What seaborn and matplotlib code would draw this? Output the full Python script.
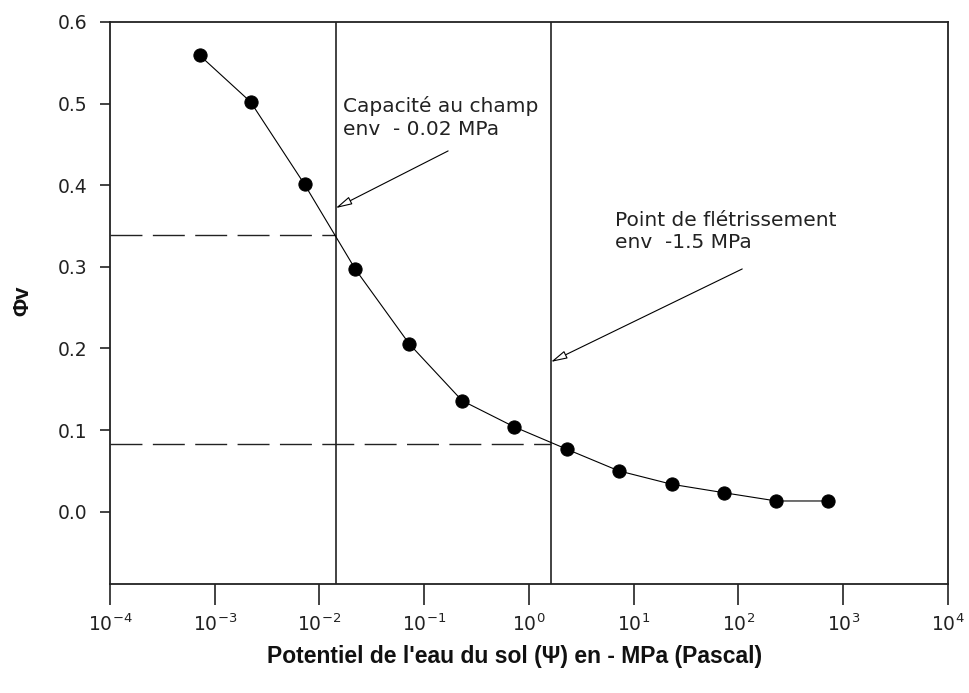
import matplotlib
matplotlib.use("Agg")
import matplotlib.pyplot as plt
import seaborn as sns
import numpy as np
import pandas as pd

# Soil water retention curve: volumetric water content vs. water potential
potential_mpa = [0.00072, 0.0022, 0.0072, 0.022, 0.072, 0.23, 0.72,
                 2.3, 7.2, 23, 72, 230, 720]
water_content = [0.559, 0.502, 0.401, 0.297, 0.2055, 0.136, 0.104,
                 0.0765, 0.050, 0.0336, 0.0233, 0.0131, 0.0131]

# Reference potentials and corresponding water contents
field_capacity_x = 0.0143
field_capacity_y = 0.3387
wilting_point_x = 1.62
wilting_point_y = 0.0826

x_ticks = [1e-4, 1e-3, 1e-2, 1e-1, 1e0, 1e1, 1e2, 1e3, 1e4]
x_tick_labels = ["10$^{-4}$", "10$^{-3}$", "10$^{-2}$", "10$^{-1}$", "10$^{0}$",
                 "10$^{1}$", "10$^{2}$", "10$^{3}$", "10$^{4}$"]
y_ticks = [0.0, 0.1, 0.2, 0.3, 0.4, 0.5, 0.6]
y_tick_labels = ["0.0", "0.1", "0.2", "0.3", "0.4", "0.5", "0.6"]

df = pd.DataFrame({"psi": potential_mpa, "phi": water_content})

sns.set_style("ticks")
plt.rcParams["font.family"] = ["DejaVu Sans"]
plt.rcParams["mathtext.fontset"] = "dejavusans"
plt.rcParams["axes.unicode_minus"] = False

fig = plt.figure(figsize=(9.7, 6.93), dpi=100)
ax = fig.add_axes([0.1134, 0.1573, 0.8639, 0.811])

ax.set_xscale("log")
ax.set_xlim(1e-4, 1e4)
ax.set_ylim(-0.0886, 0.6)

sns.lineplot(data=df, x="psi", y="phi", ax=ax, color="black", linewidth=0.8,
             marker="o", markersize=9.5, markeredgecolor="black",
             markerfacecolor="black", zorder=4)

# vertical markers for field capacity and wilting point
ax.axvline(field_capacity_x, color="#222222", linewidth=1.2, zorder=2)
ax.axvline(wilting_point_x, color="#222222", linewidth=1.2, zorder=2)

# dashed guides from the y axis to each vertical line
ax.plot([1e-4, field_capacity_x], [field_capacity_y, field_capacity_y],
        color="#222222", linewidth=1.0, dashes=(23, 7.5), zorder=2)
ax.plot([1e-4, wilting_point_x], [wilting_point_y, wilting_point_y],
        color="#222222", linewidth=1.0, dashes=(23, 7.5), zorder=2)

text_kw = dict(fontsize=14.5, color="#222222", linespacing=1.22,
               ha="left", va="top")
ax.text(0.0167, 0.509, "Capacité au champ\nenv  - 0.02 MPa", **text_kw)
ax.text(6.65, 0.369, "Point de flétrissement\nenv  -1.5 MPa", **text_kw)

arrow_kw = dict(arrowstyle="-|>,head_length=1.0,head_width=0.25",
                facecolor="white", edgecolor="black", linewidth=0.8,
                shrinkA=0, shrinkB=0)
ax.annotate("", xy=(field_capacity_x, 0.372), xytext=(0.169, 0.442),
            arrowprops=arrow_kw)
ax.annotate("", xy=(wilting_point_x, 0.1835), xytext=(108.6, 0.2974),
            arrowprops=arrow_kw)

ax.set_xticks(x_ticks)
ax.set_xticklabels(x_tick_labels)
ax.xaxis.set_minor_locator(matplotlib.ticker.NullLocator())
ax.set_yticks(y_ticks)
ax.set_yticklabels(y_tick_labels)

ax.tick_params(axis="x", direction="out", length=15, width=1.2,
               pad=6, labelsize=13.5, colors="#222222")
ax.tick_params(axis="y", direction="out", length=7.2, width=1.2,
               pad=9, labelsize=13.5, colors="#222222")

for side in ["left", "right", "top", "bottom"]:
    ax.spines[side].set_visible(True)
    ax.spines[side].set_color("#222222")
    ax.spines[side].set_linewidth(1.3)

ax.set_xlabel("")
ax.set_ylabel("")
fig.text(0.530, 0.053, "Potentiel de l'eau du sol (Ψ) en - MPa (Pascal)",
         ha="center", va="center", fontsize=16.5, fontweight="bold",
         color="#111111", family="Liberation Sans")
fig.text(0.024, 0.566, "Φv", ha="center", va="center", rotation=90,
         fontsize=16, fontweight="bold", color="#111111",
         family="Liberation Sans")

fig.savefig("out.png", dpi=100)
